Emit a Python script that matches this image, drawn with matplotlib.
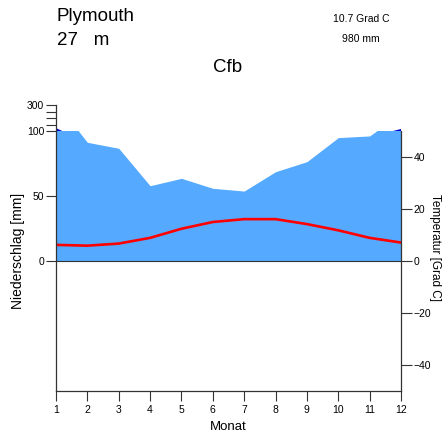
import numpy as np
import matplotlib.pyplot as plt
from matplotlib.patches import Rectangle

plt.rcParams['font.family'] = ['Liberation Sans', 'DejaVu Sans']

# datos del climograma
monat = np.arange(1, 13)
niederschlag = [122, 91.3, 86.7, 57.9, 63.6, 55.9, 53.8, 68.7, 76.4, 94.9, 96.2, 113.5]
temperatur = [6.2, 5.9, 6.7, 8.9, 12.4, 15.0, 16.1, 16.1, 14.2, 11.8, 8.9, 7.1]

station = 'Plymouth'
hoehe = '27   m'
klima = 'Cfb'
jahr_temp = '10.7 Grad C'
jahr_nied = '980 mm'

prec_ticks = [0, 50, 100, 300]
temp_ticks = [-40, -20, 0, 20, 40]

# escala: hasta 100 mm lineal, arriba comprimido 1/10; 10 Grad C = 20 mm
def escala_p(p):
    p = np.asarray(p, dtype=float)
    return np.where(p > 100, 100 + (p - 100) / 10.0, p)

fig = plt.figure(figsize=(4.43, 4.33), dpi=100)
ax = fig.add_axes([56/443, 42/433, 345/443, 286/433])

ax.set_xlim(1, 12)
ax.set_ylim(-100, 120)

p_lin = np.asarray(niederschlag, dtype=float)
fb = ax.fill_between(monat, 0, p_lin, color='#55aaff', lw=0)
fb.set_clip_path(Rectangle((1, 0), 11, 100, transform=ax.transData))

# parte > 100 mm en azul oscuro
p_comp = escala_p(niederschlag)
ax.fill_between(monat, 100, p_comp, where=p_comp > 100, interpolate=True,
                color='#0000cc', lw=0)

ax.axhline(0, color='#333333', lw=0.8)
ax.plot(monat, 2 * np.asarray(temperatur), color='red', lw=1.9)

# ejes
ax.spines['top'].set_visible(False)
ax.spines['left'].set_bounds(-100, 120)
ax.spines['right'].set_bounds(-100, 100)
for s in ['left', 'right', 'bottom']:
    ax.spines[s].set_color('#333333')
    ax.spines[s].set_linewidth(0.9)

ax.set_xticks(monat)
ax.tick_params(axis='x', direction='out', length=7, labelsize=7.5, width=0.8,
               color='#333333', pad=3)

ax.set_yticks(escala_p(prec_ticks))
ax.set_yticklabels([str(t) for t in prec_ticks])
ax.set_yticks([105, 110, 115], minor=True)
ax.tick_params(axis='y', which='both', direction='out', length=7, labelsize=7.5,
               width=0.8, color='#333333', pad=1.5)

ax2 = ax.twinx()
ax2.set_ylim(-50, 60)
for s in ['top', 'left', 'bottom', 'right']:
    ax2.spines[s].set_visible(False)
ax2.set_yticks(temp_ticks)
ax2.tick_params(axis='y', direction='out', length=8, labelsize=7.5, width=0.8,
                color='#333333', pad=1)

ax.set_xlabel('Monat', fontsize=9.5)
ax.xaxis.set_label_coords(0.5, -0.105)
ax.set_ylabel('Niederschlag [mm]', fontsize=10)
ax.yaxis.set_label_coords(-0.09, 0.49)
ax2.set_ylabel('Temperatur [Grad C]', fontsize=8.5, rotation=-90, va='bottom')
ax2.yaxis.set_label_coords(1.08, 0.5)

fig.text(57/443, 1 - 21/433, station, fontsize=13.5, va='baseline', ha='left')
fig.text(57/443, 1 - 45/433, hoehe, fontsize=13.5, va='baseline', ha='left')
fig.text(228/443, 1 - 72/433, klima, fontsize=13.5, va='baseline', ha='center')
fig.text(361/443, 1 - 19/433, jahr_temp, fontsize=7.5, va='center', ha='center')
fig.text(361/443, 1 - 39/433, jahr_nied, fontsize=7.5, va='center', ha='center')

plt.savefig('out.png', dpi=100)
